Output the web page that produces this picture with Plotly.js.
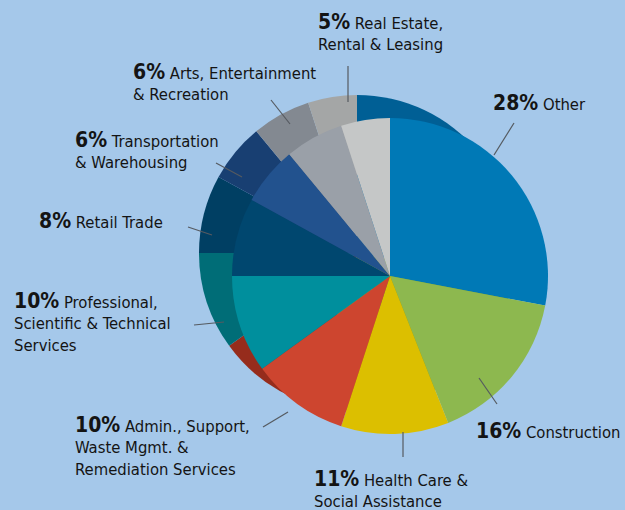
<!DOCTYPE html>
<html><head><meta charset="utf-8">
<script src="https://cdn.plot.ly/plotly-3.0.1.min.js"></script>
<style>html,body{margin:0;padding:0;background:#a5c8ea;}#chart{width:625px;height:510px;}</style>
</head><body><div id="chart"></div>
<script>
// ---- data ----
const categories = ['Other', 'Construction', 'Health Care & Social Assistance',
  'Admin., Support, Waste Mgmt. & Remediation Services',
  'Professional, Scientific & Technical Services', 'Retail Trade',
  'Transportation & Warehousing', 'Arts, Entertainment & Recreation',
  'Real Estate, Rental & Leasing'];
const shares = [28, 16, 11, 10, 10, 8, 6, 6, 5];
const labelFirst = ['Other', 'Construction', 'Health Care &', 'Admin., Support,',
  'Professional,', 'Retail Trade', 'Transportation', 'Arts, Entertainment', 'Real Estate,'];
const labelRest = [[], [], ['Social Assistance'], ['Waste Mgmt. &', 'Remediation Services'],
  ['Scientific & Technical', 'Services'], [], ['& Warehousing'], ['& Recreation'], ['Rental & Leasing']];

// ---- style ----
const topColors  = ['#0079b6', '#8db84f', '#dcbf00', '#cd452f', '#008f9d', '#00476f', '#22528e', '#9aa0a8', '#c5c7c7'];
const sideColors = ['#005f95', '#6d9a38', '#b89f00', '#962c1c', '#006d77', '#003f63', '#183f72', '#838991', '#a4a6a6'];
const W = 625, H = 510;
const px = x => x / W, py = y => 1 - y / H;
// label placement: [left x, first baseline y] in pixels
const labelPos = [[493,110],[476,438],[314,486],[75,432],[14,308],[39,228],[75,147],[133,79],[318,29]];
const leaders = [[514,123,494,155],[479,378,497,404],[403,432,403,457],[263,427,288,412],
  [194,325,224,322],[188,227,212,235],[216,163,242,177],[271,100,290,124],[348,66,348,102]];

const front = {cx: 390, cy: 276, r: 158};
const side  = {cx: 357, cy: 253, r: 158};
function dom(c) {
  return {x: [px(c.cx - c.r), px(c.cx + c.r)], y: [py(c.cy + c.r), py(c.cy - c.r)]};
}
function pieTrace(c, colors) {
  return {type: 'pie', labels: categories, values: shares, sort: false, direction: 'clockwise',
    rotation: 0, textinfo: 'none', hoverinfo: 'none', showlegend: false,
    marker: {colors: colors, line: {width: 0}}, domain: dom(c)};
}

const FONT = '"DejaVu Sans Condensed", "Liberation Sans Narrow", sans-serif';
const annotations = categories.map((c, i) => {
  const pct = shares[i] + '%';
  let txt = '<span style="font-size:21px"><b>' + pct + '</b></span> ' + labelFirst[i];
  labelRest[i].forEach(l => { txt += '<br>' + l; });
  return {xref: 'paper', yref: 'paper', x: px(labelPos[i][0]), y: py(labelPos[i][1] - 19),
    xanchor: 'left', yanchor: 'top', align: 'left', showarrow: false, text: txt,
    borderpad: 0, borderwidth: 0, font: {family: FONT, size: 16.5, color: '#141414'}};
});
const shapes = leaders.map(l => ({type: 'line', xref: 'paper', yref: 'paper',
  x0: px(l[0]), y0: py(l[1]), x1: px(l[2]), y1: py(l[3]), line: {color: '#555a60', width: 1.2}}));

Plotly.newPlot('chart', [pieTrace(side, sideColors), pieTrace(front, topColors)], {
  width: W, height: H, margin: {l: 0, r: 0, t: 0, b: 0},
  paper_bgcolor: '#a5c8ea', plot_bgcolor: '#a5c8ea',
  annotations: annotations, shapes: shapes
}, {displayModeBar: false, staticPlot: true});
</script></body></html>
